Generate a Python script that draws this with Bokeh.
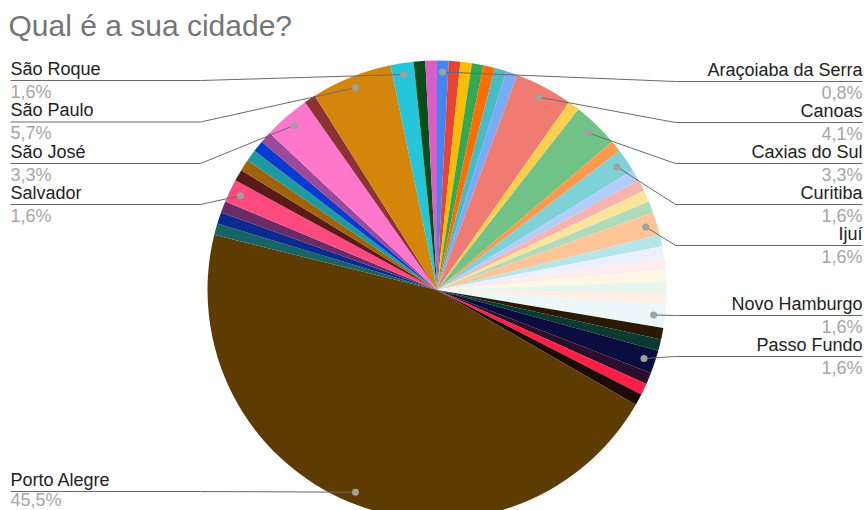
import math
from bokeh.plotting import figure
from bokeh.models import Range1d, ColumnDataSource
from bokeh.core.properties import value
from bokeh.embed import file_html
from bokeh.resources import INLINE

title = "Qual é a sua cidade?"

cities = ["Araçoiaba da Serra", "", "", "", "", "", "", "Canoas", "", "Caxias do Sul", "",
          "Curitiba", "", "", "", "", "Ijuí", "", "", "", "", "", "", "Novo Hamburgo", "", "",
          "Passo Fundo", "", "", "", "Porto Alegre", "", "", "", "Salvador", "", "", "", "", "",
          "São José", "", "São Paulo", "São Roque", "", ""]
counts = [1, 1, 1, 1, 1, 1, 1, 5, 1, 4, 1, 2, 1, 1, 1, 1, 2, 1, 1, 1, 1, 1, 1, 2, 1, 1,
          2, 1, 1, 1, 56, 1, 1, 1, 2, 1, 1, 1, 1, 1, 4, 1, 7, 2, 1, 1]
colors = ["#4285f4", "#ea4335", "#fbbc04", "#34a853", "#ff6d01", "#46bdc6", "#7baaf7",
          "#f07b72", "#fcd04f", "#71c287", "#ff994d", "#7ed1d7", "#b3cefb", "#f7b4ae",
          "#fde49b", "#aedcba", "#ffc599", "#b5e5e8", "#ecf0fe", "#fdecec", "#fef7e4",
          "#eaf5ee", "#fff0e5", "#ebf7f8", "#2b1a03", "#0b3b30", "#0a0e3e", "#2c0f2c",
          "#ff1f44", "#1e0a09", "#5e3b00", "#166464", "#0a2a8f", "#6a2b66", "#ff4a80",
          "#5a1a18", "#a0620a", "#1c9a9e", "#0a3ad0", "#9a4a99", "#ff77cc", "#8b3232",
          "#d4860b", "#26c6da", "#0a4d16", "#dd5cc8"]

W, H = 867, 510
CX, CY, R = 436.5, 289.5, 229.5   # pie centre / radius in pixels (y down)
DOT_R = 0.95 * R

# label layout: side, y of underline (pixels)
label_layout = {
    "São Roque": ("left", 80), "São Paulo": ("left", 121.5), "São José": ("left", 163),
    "Salvador": ("left", 204), "Porto Alegre": ("left", 491),
    "Araçoiaba da Serra": ("right", 81), "Canoas": ("right", 122), "Caxias do Sul": ("right", 163),
    "Curitiba": ("right", 204), "Ijuí": ("right", 245), "Novo Hamburgo": ("right", 315),
    "Passo Fundo": ("right", 356),
}

def fy(py):
    return H - py

total = sum(counts)
starts, ends, mids = [], [], []
cum = 0
for c in counts:
    t0 = cum / total * 2 * math.pi
    cum += c
    t1 = cum / total * 2 * math.pi
    starts.append(math.pi / 2 - t1)
    ends.append(math.pi / 2 - t0)
    mids.append((t0 + t1) / 2)

p = figure(width=W, height=H, x_range=Range1d(0, W), y_range=Range1d(0, H),
           output_backend="svg", toolbar_location=None,
           x_axis_location=None, y_axis_location=None, min_border=0)
p.grid.visible = False
p.outline_line_color = None
p.background_fill_color = "white"
p.border_fill_color = "white"

src = ColumnDataSource(dict(start=starts, end=ends, color=colors, city=cities, count=counts))
p.wedge(x=CX, y=fy(CY), radius=R, start_angle="start", end_angle="end",
        fill_color="color", line_color=None, source=src)

font = value("Liberation Sans")
lx, ly, ltxt, lalign = [], [], [], []
px_, py_, ptxt, palign = [], [], [], []
dots_x, dots_y = [], []
for i, name in enumerate(cities):
    if name not in label_layout:
        continue
    side, uy = label_layout[name]
    th = mids[i]
    dx = CX + DOT_R * math.sin(th)
    dy = CY - DOT_R * math.cos(th)
    dots_x.append(dx)
    dots_y.append(fy(dy))
    pct = f"{counts[i] / total * 100:.1f}%".replace(".", ",")
    if side == "left":
        xs = [10, 200, dx]
        tx, al = 10, "left"
    else:
        xs = [862, 675, dx]
        tx, al = 862, "right"
    p.line(xs, [fy(uy), fy(uy), fy(dy)], line_color="#6a6a6a", line_width=1)
    lx.append(tx); ly.append(fy(uy - 12)); ltxt.append(name); lalign.append(al)
    py_pix = min(uy + 11, 499)
    px_.append(tx); py_.append(fy(py_pix)); ptxt.append(pct); palign.append(al)

p.scatter(dots_x, dots_y, size=7, fill_color="#a0a0a0", line_color=None)

p.text(x=lx, y=ly, text=ltxt, text_align=lalign, text_baseline="middle",
       text_font=font, text_font_size="18px", text_color="#222222")
p.text(x=px_, y=py_, text=ptxt, text_align=palign, text_baseline="middle",
       text_font=font, text_font_size="18px", text_color="#a6a6a6")

p.text(x=[8], y=[fy(25)], text=[title], text_align="left", text_baseline="middle",
       text_font=font, text_font_size="30px", text_color="#757575")

open("out.html", "w").write(file_html(p, INLINE))
